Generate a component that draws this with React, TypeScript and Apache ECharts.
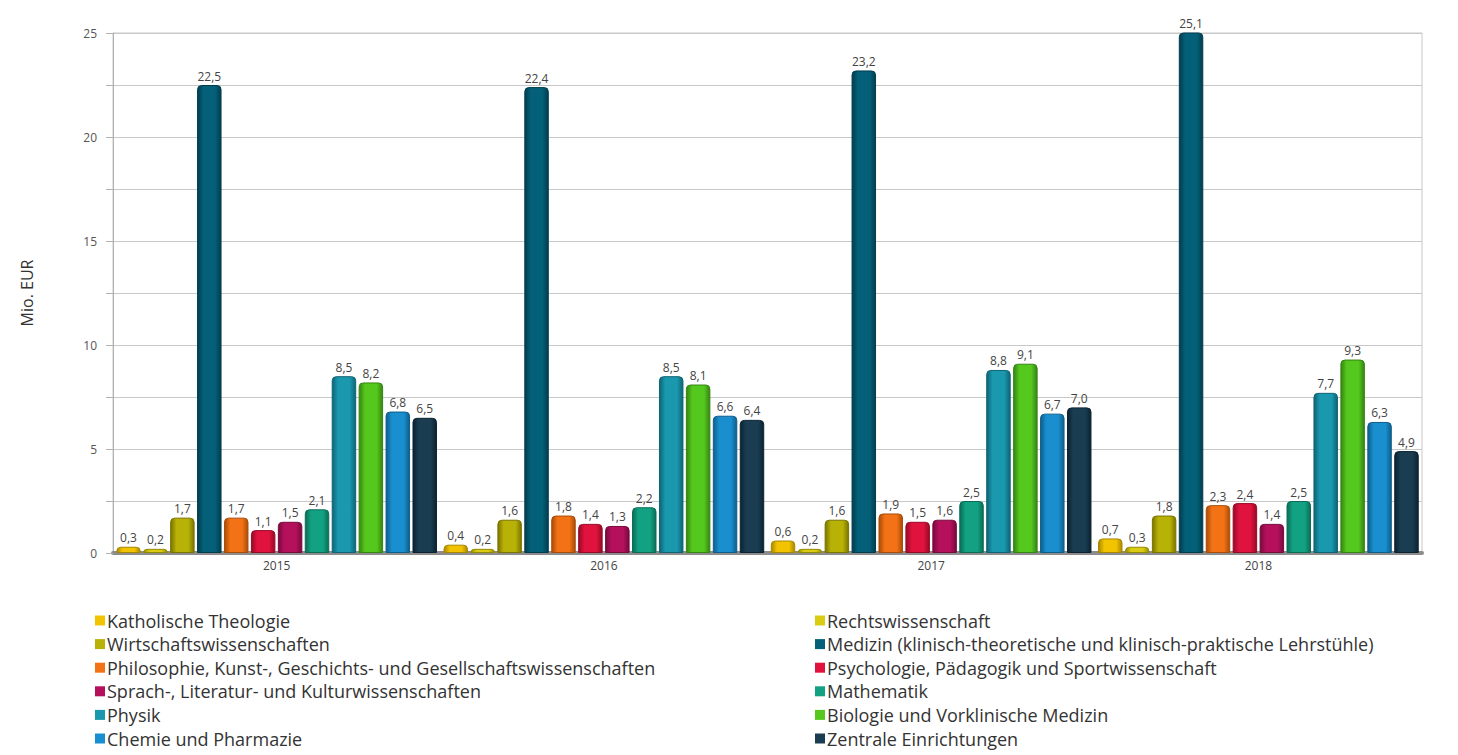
import React, { useEffect, useRef } from "react";
import * as echarts from "echarts";

const years = ["2015", "2016", "2017", "2018"];
const yTicks = [0, 5, 10, 15, 20, 25];

const katholisch = [0.3, 0.4, 0.6, 0.7];
const rechts = [0.2, 0.2, 0.2, 0.3];
const wirtschaft = [1.7, 1.6, 1.6, 1.8];
const medizin = [22.5, 22.4, 23.2, 25.1];
const philosophie = [1.7, 1.8, 1.9, 2.3];
const psychologie = [1.1, 1.4, 1.5, 2.4];
const sprach = [1.5, 1.3, 1.6, 1.4];
const mathematik = [2.1, 2.2, 2.5, 2.5];
const physik = [8.5, 8.5, 8.8, 7.7];
const biologie = [8.2, 8.1, 9.1, 9.3];
const chemie = [6.8, 6.6, 6.7, 6.3];
const zentrale = [6.5, 6.4, 7.0, 4.9];

const seriesDefs = [
  { name: "Katholische Theologie", data: katholisch, color: "#f2c400", border: "#a88700" },
  { name: "Rechtswissenschaft", data: rechts, color: "#d9cc12", border: "#948a00" },
  { name: "Wirtschaftswissenschaften", data: wirtschaft, color: "#b8b106", border: "#7a7400" },
  { name: "Medizin (klinisch-theoretische und klinisch-praktische Lehrstühle)", data: medizin, color: "#045f78", border: "#023d4e" },
  { name: "Philosophie, Kunst-, Geschichts- und Gesellschaftswissenschaften", data: philosophie, color: "#f47216", border: "#a84c08" },
  { name: "Psychologie, Pädagogik und Sportwissenschaft", data: psychologie, color: "#e0123e", border: "#960a26" },
  { name: "Sprach-, Literatur- und Kulturwissenschaften", data: sprach, color: "#b4105c", border: "#760a3c" },
  { name: "Mathematik", data: mathematik, color: "#12a283", border: "#0a6c56" },
  { name: "Physik", data: physik, color: "#1a98ae", border: "#0e6474" },
  { name: "Biologie und Vorklinische Medizin", data: biologie, color: "#55c81e", border: "#368412" },
  { name: "Chemie und Pharmazie", data: chemie, color: "#1a8fcf", border: "#0e5e8a" },
  { name: "Zentrale Einrichtungen", data: zentrale, color: "#1a3d52", border: "#0c2230" },
];

const fmt = (v: number) => v.toFixed(1).replace(".", ",");

export default function App() {
  const ref = useRef<HTMLDivElement>(null);
  useEffect(() => {
    document.body.style.margin = "0";
    document.body.style.overflow = "hidden";
    if (!ref.current) return;
    const chart = echarts.init(ref.current, undefined, { renderer: "svg" });
    const font = "'Open Sans', 'Noto Sans', sans-serif";
    const legendCommon = {
      orient: "vertical" as const,
      top: 611,
      height: 144,
      padding: 0,
      itemWidth: 10,
      itemHeight: 10,
      itemGap: 4.6,
      icon: "rect",
      textStyle: { fontSize: 18, color: "#333", fontFamily: font, lineHeight: 19, padding: [0, 0, 0, -3] },
    };
    const legendData = (parity: number) =>
      seriesDefs
        .filter((_, i) => i % 2 === parity)
        .map((s) => ({ name: s.name, itemStyle: { color: s.color, borderWidth: 0 } }));
    chart.setOption({
      animation: false,
      backgroundColor: "#ffffff",
      textStyle: { fontFamily: font },
      grid: { left: 113, right: 36, top: 33, bottom: 202, show: true, borderColor: "#c8c8c8", borderWidth: 1 },
      legend: [
        { ...legendCommon, left: 95, data: legendData(0) },
        { ...legendCommon, left: 815, data: legendData(1) },
      ],
      xAxis: {
        type: "category",
        data: years,
        axisLine: { lineStyle: { color: "#8c8c8c", width: 4 } },
        axisTick: { show: false },
        axisLabel: { color: "#444", fontSize: 12, margin: 6 },
      },
      yAxis: {
        type: "value",
        min: 0,
        max: 25,
        interval: 2.5,
        name: "Mio. EUR",
        nameLocation: "middle",
        nameGap: 78,
        nameTextStyle: { fontSize: 16, color: "#333" },
        axisLine: { show: true, lineStyle: { color: "#b0b0b0" } },
        axisTick: { show: true, length: 7, lineStyle: { color: "#b0b0b0" } },
        axisLabel: {
          color: "#555",
          fontSize: 12,
          margin: 16,
          formatter: (v: number) => (yTicks.includes(v) ? String(v) : ""),
        },
        splitLine: { lineStyle: { color: "#c8c8c8", width: 1 } },
      },
      series: seriesDefs.map((s) => ({
        name: s.name,
        type: "bar",
        data: s.data,
        barGap: "10%",
        barCategoryGap: "2%",
        itemStyle: {
          color: new echarts.graphic.LinearGradient(0, 0, 1, 0, [
            { offset: 0, color: s.border },
            { offset: 0.25, color: s.color },
            { offset: 0.75, color: s.color },
            { offset: 1, color: s.border },
          ]),
          borderColor: s.border,
          borderWidth: 1,
          borderRadius: [4, 4, 0, 0],
        },
        label: {
          show: true,
          position: "top",
          distance: 3,
          fontSize: 12,
          color: "#444",
          formatter: (p: any) => fmt(p.value),
        },
      })),
    });
    return () => chart.dispose();
  }, []);
  return <div ref={ref} style={{ width: 1458, height: 755 }} />;
}
